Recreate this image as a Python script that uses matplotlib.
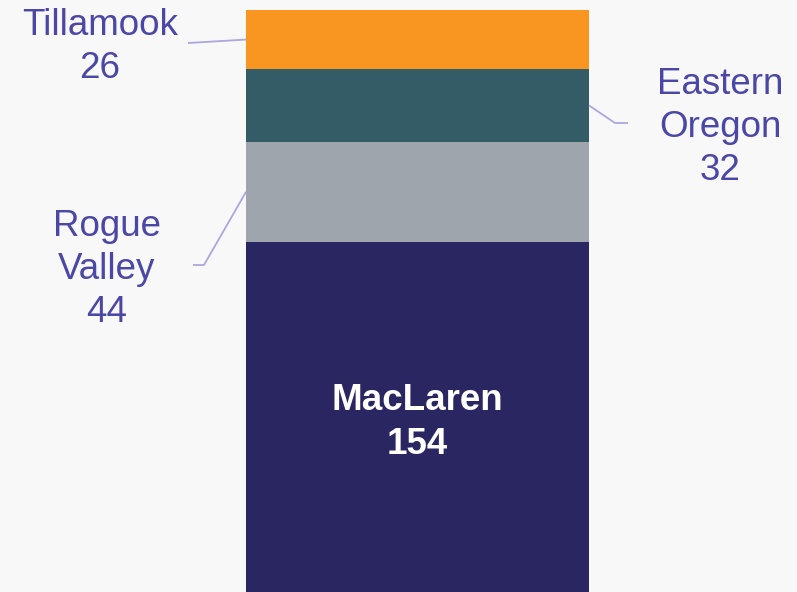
import matplotlib.pyplot as plt

plt.rcParams['font.family'] = ['Liberation Sans', 'DejaVu Sans']

names = ['MacLaren', 'Rogue\nValley', 'Eastern\nOregon', 'Tillamook']
values = [154, 44, 32, 26]
colors = ['#292661', '#9ea5ad', '#335c67', '#f99621']

W, H = 797, 592
bg = '#f8f8f8'
txt_c = '#4b47a6'
line_c = '#aaa7e0'

fig = plt.figure(figsize=(W / 100, H / 100), dpi=100, facecolor=bg)
ax = fig.add_axes([0, 0, 1, 1])
ax.set_facecolor(bg)
x0, x1 = -1.217, 1.106
y1 = sum(values) * 592 / 582
ax.set_xlim(x0, x1)
ax.set_ylim(0, y1)
ax.axis('off')


def px(x, y):
    # pixel position -> data coords
    return x0 + x / W * (x1 - x0), y1 - y / H * y1


bottom = 0
mids = []
for v, c in zip(values, colors):
    ax.bar(0, v, width=1, bottom=bottom, color=c, linewidth=0)
    mids.append(bottom + v / 2)
    bottom += v

# inside label
ax.text(0, px(0, 422.5)[1], f'{names[0]}\n{values[0]}', ha='center', va='center',
        color='white', fontsize=26.5, fontweight='bold', linespacing=1.3)

# outside labels: (side, elbow points in px, text centre in px)
outside = {
    1: (-0.5, [(204, 265), (193, 265)], (107, 269.5)),
    2: (0.5, [(615, 123), (628, 123)], (720, 127.5)),
    3: (-0.5, [(188, 43)], (100, 47)),
}
for i, (side, pts, tpos) in outside.items():
    xs = [side] + [px(*p)[0] for p in pts]
    ys = [mids[i]] + [px(*p)[1] for p in pts]
    ax.plot(xs, ys, color=line_c, lw=1.3, solid_capstyle='butt')
    tx, ty = px(*tpos)
    ax.text(tx, ty, f'{names[i]}\n{values[i]}', ha='center', va='center',
            color=txt_c, fontsize=26.5, linespacing=1.3)

fig.savefig('out.png', dpi=100, facecolor=bg)
